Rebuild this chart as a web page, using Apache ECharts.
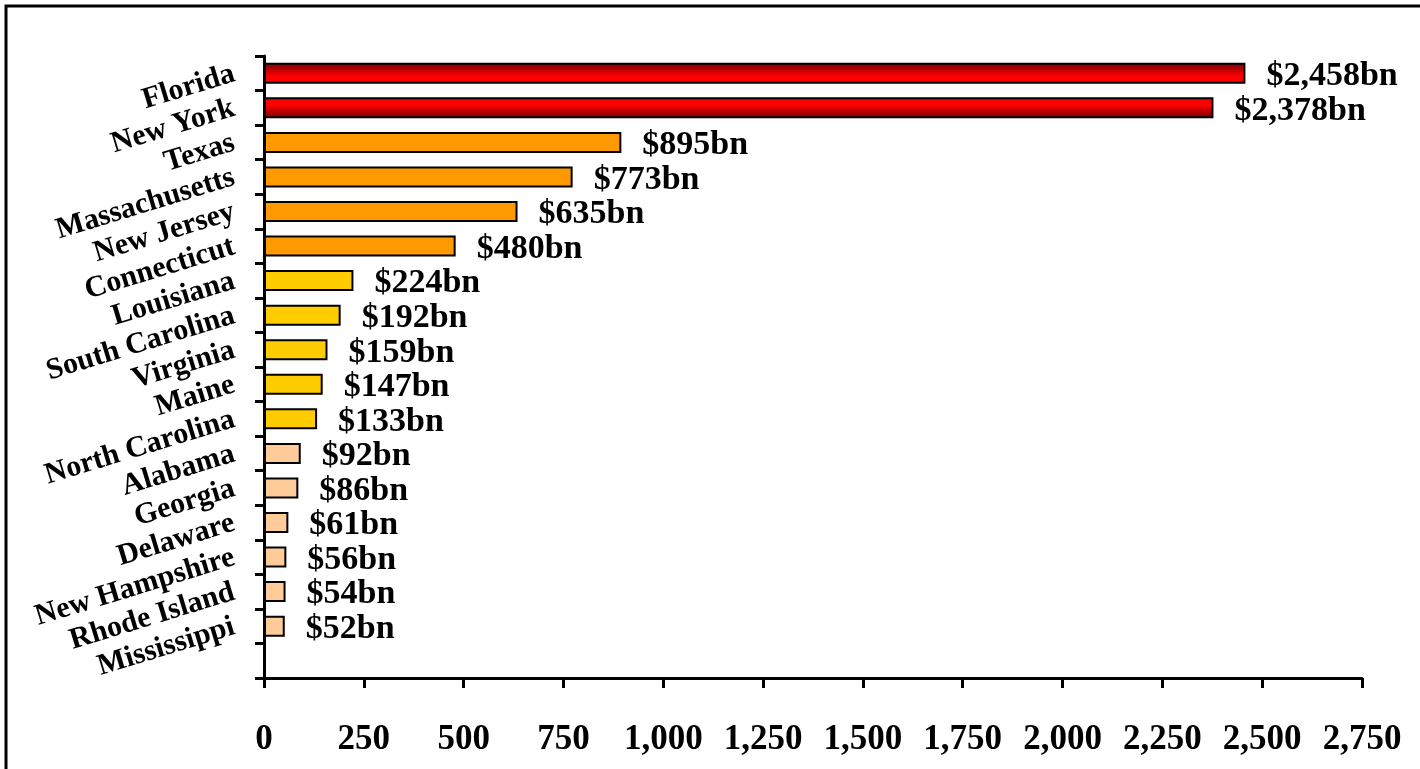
<!DOCTYPE html>
<html>
<head>
<meta charset="utf-8">
<script src="https://cdn.jsdelivr.net/npm/echarts@6/dist/echarts.min.js"></script>
<style>
html,body{margin:0;padding:0;background:#fff;}
#chart{width:1420px;height:769px;}
</style>
</head>
<body>
<div id="chart"></div>
<script>
const states = ['Florida','New York','Texas','Massachusetts','New Jersey','Connecticut','Louisiana','South Carolina','Virginia','Maine','North Carolina','Alabama','Georgia','Delaware','New Hampshire','Rhode Island','Mississippi',''];
const values = [2458,2378,895,773,635,480,224,192,159,147,133,92,86,61,56,54,52,null];
const xTicks = [0,250,500,750,1000,1250,1500,1750,2000,2250,2500,2750];

const FONT = '"Liberation Serif","Times New Roman",serif';
function fmt(v){ return v.toString().replace(/\B(?=(\d{3})+(?!\d))/g, ','); }
function barColor(v, i){
  if (v >= 2000) {
    return i === 0
      ? {type:'linear',x:0,y:0,x2:0,y2:1,colorStops:[{offset:0,color:'#780000'},{offset:0.65,color:'#ff0000'},{offset:1,color:'#ff0000'}]}
      : {type:'linear',x:0,y:0,x2:0,y2:1,colorStops:[{offset:0,color:'#ff0000'},{offset:0.35,color:'#ff0000'},{offset:1,color:'#780000'}]};
  }
  if (v >= 400) return '#ff9900';
  if (v >= 100) return '#ffcc00';
  return '#ffcc99';
}

const chart = echarts.init(document.getElementById('chart'));
chart.setOption({
  animation:false,
  backgroundColor:'#fff',
  graphic:[{type:'rect',shape:{x:6,y:6,width:1430,height:790},style:{fill:'none',stroke:'#000',lineWidth:3},silent:true}],
  grid:{left:264,right:58,top:56,bottom:91,containLabel:false},
  xAxis:{
    type:'value',min:0,max:2750,interval:250,
    axisLine:{show:true,lineStyle:{color:'#000',width:3}},
    axisTick:{show:true,length:10,lineStyle:{color:'#000',width:3}},
    splitLine:{show:false},
    axisLabel:{margin:44,color:'#000',fontFamily:FONT,fontWeight:'bold',fontSize:35,
      formatter:function(v){ return xTicks.indexOf(v) >= 0 ? fmt(v) : ''; }}
  },
  yAxis:{
    type:'category',data:states,inverse:true,
    axisLine:{show:true,lineStyle:{color:'#000',width:3}},
    axisTick:{show:true,length:9,interval:0,lineStyle:{color:'#000',width:3}},
    axisLabel:{interval:0,rotate:17,margin:30,color:'#000',fontFamily:FONT,fontWeight:'bold',fontSize:30}
  },
  series:[{
    type:'bar',barWidth:21,
    data:values.map(function(v,i){ return v==null ? null : {value:v,itemStyle:{color:barColor(v,i)}}; }),
    itemStyle:{borderColor:'#000',borderWidth:2},
    label:{show:true,position:'right',distance:21,offset:[0,3],color:'#000',fontFamily:FONT,fontWeight:'bold',fontSize:34,
      formatter:function(p){ return '$' + fmt(p.value) + 'bn'; }}
  }]
});
</script>
</body>
</html>
